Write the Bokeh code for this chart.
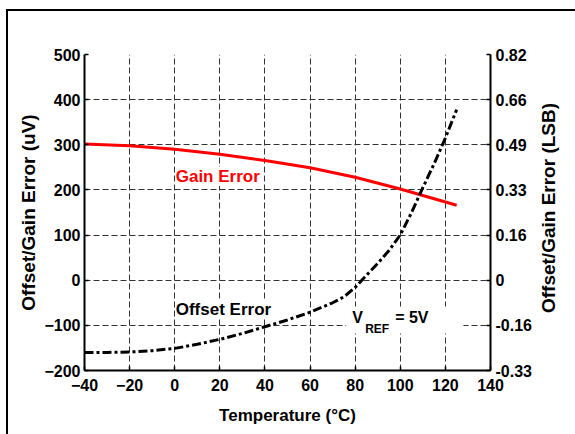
import math
from bokeh.plotting import figure
from bokeh.models import Range1d, FixedTicker, LinearAxis, Label, BoxAnnotation
from bokeh.embed import file_html
from bokeh.resources import INLINE

# ---- data ----
gain_temp = [-40, -20, 0, 20, 40, 60, 80, 100, 125]
gain_err = [302, 298, 290, 279, 265, 249, 228, 202, 166]

offset_temp = [-40, -30, -20, -10, 0, 10, 20, 30, 40, 50, 60, 70, 75, 80, 85,
               90, 95, 100, 105, 110, 115, 120, 125]
offset_err = [-160, -160, -159, -156, -151, -142, -131, -118, -103, -88, -71,
              -50, -37, -16, 11, 37, 66, 100, 150, 205, 258, 315, 378]

x_ticks = [-40, -20, 0, 20, 40, 60, 80, 100, 120, 140]
y_ticks = [-200, -100, 0, 100, 200, 300, 400, 500]
lsb_labels = ["-0.33", "-0.16", "0", "0.16", "0.33", "0.49", "0.66", "0.82"]

FONT = "Liberation Sans"

p = figure(
    output_backend="svg", toolbar_location=None,
    frame_width=406, frame_height=316,
    min_border_left=84, min_border_right=85, min_border_top=54, min_border_bottom=64,
    x_range=Range1d(-40, 140), y_range=Range1d(-200, 500),
    background_fill_color="white", border_fill_color=None,
)
p.outline_line_color = None
# outer frame of the figure: only its left and top edges fall inside the window
p.styles = {
    "background": ("linear-gradient(#000,#000) 6px 9px / 2px calc(100% - 9px) no-repeat, "
                   "linear-gradient(#000,#000) 6px 9px / calc(100% - 6px) 2px no-repeat, #fff"),
}

# grid
for g in (p.xgrid, p.ygrid):
    g.grid_line_color = "#333333"
    g.grid_line_width = 1
    g.grid_line_dash = "6 3"
p.xgrid.ticker = FixedTicker(ticks=x_ticks)
p.ygrid.ticker = FixedTicker(ticks=y_ticks)

def style_axis(ax):
    ax.axis_line_color = "black"
    ax.axis_line_width = 2
    ax.major_tick_line_color = "black"
    ax.major_tick_line_width = 1.5
    ax.major_tick_in = 4
    ax.major_tick_out = 0
    ax.minor_tick_line_color = None
    ax.major_label_text_font = FONT
    ax.major_label_text_font_style = "bold"
    ax.major_label_text_font_size = "16px"
    ax.major_label_text_color = "black"
    ax.axis_label_text_font = FONT
    ax.axis_label_text_font_style = "bold"
    ax.axis_label_text_color = "black"

xa = p.xaxis[0]
style_axis(xa)
xa.ticker = FixedTicker(ticks=x_ticks)
xa.axis_label = "Temperature (°C)"
xa.axis_label_text_font_size = "17px"
xa.major_label_standoff = 8
xa.axis_label_standoff = 12

ya = p.yaxis[0]
style_axis(ya)
ya.ticker = FixedTicker(ticks=y_ticks)
ya.axis_label = "Offset/Gain Error (uV)"
ya.axis_label_text_font_size = "19px"
ya.major_label_standoff = 4
ya.axis_label_standoff = 2

ra = LinearAxis(ticker=FixedTicker(ticks=y_ticks),
                major_label_overrides={t: s for t, s in zip(y_ticks, lsb_labels)})
style_axis(ra)
ra.major_label_standoff = 5
p.add_layout(ra, "right")

# right axis title, reading bottom to top (placed in the right panel so it is not clipped)
p.add_layout(Label(x=140, y=160, x_offset=58, angle=math.pi / 2,
                   text="Offset/Gain Error (LSB)", text_color="black",
                   text_font=FONT, text_font_style="bold", text_font_size="19px",
                   text_align="center", text_baseline="middle"), "right")

# curves
p.line(gain_temp, gain_err, line_color="#ff0000", line_width=3)
p.line(offset_temp, offset_err, line_color="black", line_width=3, line_dash="9 3 3 3")

# annotations
p.add_layout(Label(x=0, y=230, x_offset=1, text="Gain Error", text_color="#ff0000",
                   text_font=FONT, text_font_style="bold", text_font_size="17px",
                   background_fill_color="white", text_baseline="middle"))
p.add_layout(Label(x=0, y=-65, x_offset=1, text="Offset Error", text_color="black",
                   text_font=FONT, text_font_style="bold", text_font_size="17px",
                   background_fill_color="white", text_baseline="middle"))

p.add_layout(BoxAnnotation(left=76, right=128, top=-58, bottom=-118,
                           fill_color="white", fill_alpha=1.0, line_color=None,
                           level="underlay"))
p.add_layout(Label(x=80, y=-83, x_offset=-3, text="V", text_color="black",
                   text_font=FONT, text_font_style="bold", text_font_size="16px",
                   text_baseline="alphabetic"))
p.add_layout(Label(x=80, y=-83, x_offset=10, y_offset=-11, text="REF", text_color="black",
                   text_font=FONT, text_font_style="bold", text_font_size="12px",
                   text_baseline="alphabetic"))
p.add_layout(Label(x=80, y=-83, x_offset=40, text="= 5V", text_color="black",
                   text_font=FONT, text_font_style="bold", text_font_size="16px",
                   text_baseline="alphabetic"))

open("out.html", "w").write(file_html(p, INLINE))
